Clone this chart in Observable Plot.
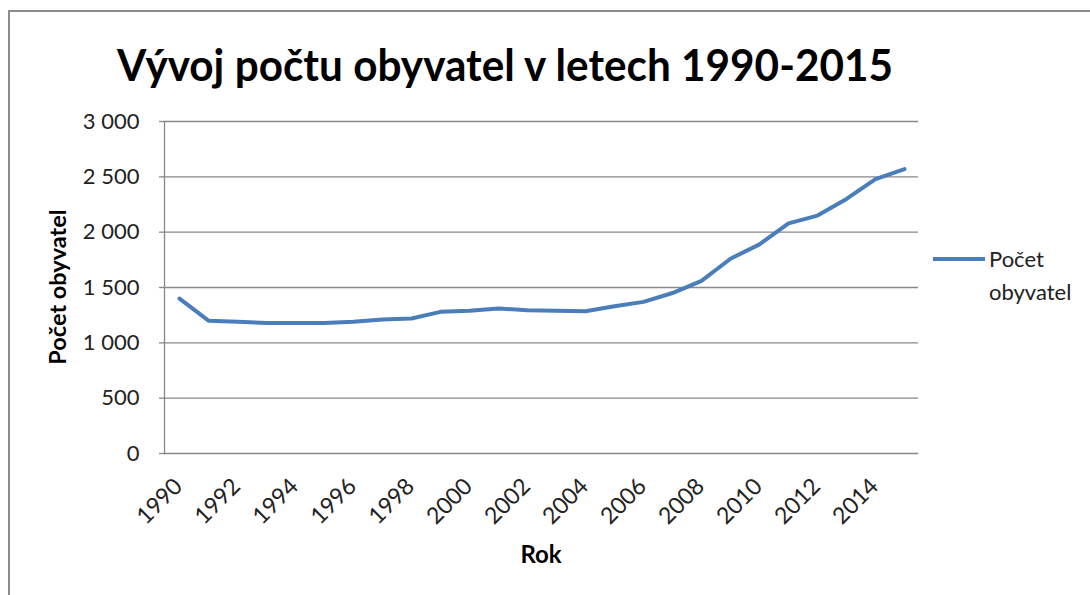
<!DOCTYPE html>
<html>
<head>
<meta charset="utf-8">
<script src="https://cdn.jsdelivr.net/npm/d3@7"></script>
<script src="https://cdn.jsdelivr.net/npm/@observablehq/plot@0.6"></script>
<style>
  html, body { margin: 0; padding: 0; background: #fff; overflow: hidden; }
  #chart { position: relative; width: 1090px; height: 595px; }
</style>
</head>
<body>
<div id="chart"></div>
<script>
const title = "Vývoj počtu obyvatel v letech 1990-2015";
const yLabel = "Počet obyvatel";
const xLabel = "Rok";
const seriesName = ["Počet", "obyvatel"];
const years = [1990, 1991, 1992, 1993, 1994, 1995, 1996, 1997, 1998, 1999, 2000, 2001, 2002,
               2003, 2004, 2005, 2006, 2007, 2008, 2009, 2010, 2011, 2012, 2013, 2014, 2015];
const population = [1400, 1200, 1190, 1180, 1180, 1180, 1190, 1210, 1220, 1280, 1290, 1310, 1295,
                    1290, 1285, 1330, 1370, 1450, 1560, 1760, 1890, 2080, 2150, 2300, 2480, 2570];
const xTicks = [1990, 1992, 1994, 1996, 1998, 2000, 2002, 2004, 2006, 2008, 2010, 2012, 2014];
const yTicks = [0, 500, 1000, 1500, 2000, 2500, 3000];

const data = years.map((year, i) => ({year, population: population[i]}));
const fmt = d3.formatLocale({thousands: "\u00a0", grouping: [3], decimal: ","}).format(",d");
const lineColor = "#4A7EBB";
const gridColor = "#888888";
const font = "Lato, 'Open Sans', sans-serif";

const plot = Plot.plot({
  width: 1090,
  height: 595,
  marginLeft: 164,
  marginRight: 172,
  marginTop: 121,
  marginBottom: 142,
  style: {fontFamily: font, fontSize: "22px", color: "#222", background: "transparent", overflow: "visible"},
  x: {type: "point", domain: years, padding: 0.5, label: null},
  y: {domain: [0, 3000], label: null},
  marks: [
    Plot.gridY(yTicks, {stroke: gridColor, strokeOpacity: 1, strokeWidth: 1.3}),
    Plot.frame({anchor: "left", stroke: gridColor, strokeOpacity: 1, strokeWidth: 1.3}),
    Plot.axisY(yTicks, {tickSize: 5, tickPadding: 20, tickFormat: fmt, stroke: gridColor, strokeWidth: 1.3, fill: "#222", label: null}),
    Plot.axisX(xTicks, {tickSize: 0, tickPadding: 29, tickRotate: -45, tickFormat: d => String(d), fill: "#222", fontSize: 23, label: null, dx: -1}),
    Plot.line(data, {x: "year", y: "population", stroke: lineColor, strokeWidth: 4, strokeLinejoin: "round", strokeLinecap: "round"})
  ]
});

document.getElementById("chart").appendChild(plot);
const svg = d3.select(plot);

// outer chart border (top & left visible)
svg.append("rect").attr("x", 9).attr("y", 11).attr("width", 1200).attr("height", 700)
  .attr("fill", "none").attr("stroke", "#8c8c8c").attr("stroke-width", 2);

// title
svg.append("text").attr("x", 117).attr("y", 81).attr("text-anchor", "start")
  .attr("textLength", 776).attr("lengthAdjust", "spacingAndGlyphs")
  .attr("font-family", font).attr("font-weight", "bold").attr("font-size", 44).attr("fill", "#000").text(title);

// y axis label
svg.append("text").attr("transform", "translate(66,287) rotate(-90)").attr("text-anchor", "middle")
  .attr("font-family", font).attr("font-weight", "bold").attr("font-size", 23.5).attr("fill", "#000").text(yLabel);

// x axis label
svg.append("text").attr("x", 541).attr("y", 563).attr("text-anchor", "middle")
  .attr("font-family", font).attr("font-weight", "bold").attr("font-size", 24).attr("fill", "#000").text(xLabel);

// legend
svg.append("line").attr("x1", 933).attr("x2", 985).attr("y1", 259).attr("y2", 259)
  .attr("stroke", lineColor).attr("stroke-width", 4);
svg.append("text").attr("x", 989).attr("y", 267).attr("text-anchor", "start").attr("font-family", font).attr("font-size", 22).attr("fill", "#222").text(seriesName[0]);
svg.append("text").attr("x", 989).attr("y", 300).attr("text-anchor", "start").attr("font-family", font).attr("font-size", 22).attr("fill", "#222").text(seriesName[1]);
</script>
</body>
</html>
